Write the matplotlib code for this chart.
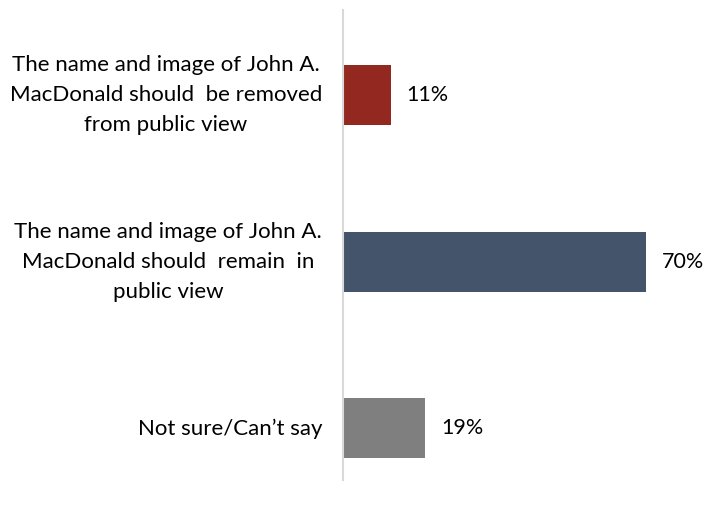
import matplotlib
matplotlib.use("Agg")
import matplotlib.pyplot as plt

categories = [
    "The name and image of John A.\nMacDonald should  be removed\nfrom public view",
    "The name and image of John A.\nMacDonald should  remain  in\npublic view",
    "Not sure/Can\u2019t say",
]
values = [11, 70, 19]
value_labels = ["11%", "70%", "19%"]
colors = ["#922820", "#44546A", "#7F7F7F"]

plt.rcParams['font.family'] = ['Lato', 'DejaVu Sans']

fig = plt.figure(figsize=(7.10, 5.08), dpi=100)
W, H = 710, 508
ax = fig.add_axes([343 / W, 1 - 480 / H, (W - 343) / W, 470 / H])

ypos = list(range(len(values)))
ax.barh(ypos, values, height=0.36, color=colors)
ax.set_xlim(0, 367 / 4.33)
ax.set_ylim(2.31, -0.51)

for s in ["top", "right", "bottom"]:
    ax.spines[s].set_visible(False)
ax.spines["left"].set_color("#D9D9D9")
ax.spines["left"].set_linewidth(1.5)
ax.set_xticks([])
ax.set_yticks([])

for y, v, lab in zip(ypos, values, value_labels):
    ax.annotate(lab, (v, y), xytext=(11.5, 0), textcoords="offset points",
                ha="left", va="center", fontsize=15.5, color="#000000")

for y, cat in zip(ypos, categories):
    ax.annotate(cat, (0, y), xytext=(-15, 0), textcoords="offset points",
                ha="right", va="center", multialignment="center",
                fontsize=16, color="#000000", linespacing=1.62,
                annotation_clip=False)

fig.savefig("out.png", dpi=100)
